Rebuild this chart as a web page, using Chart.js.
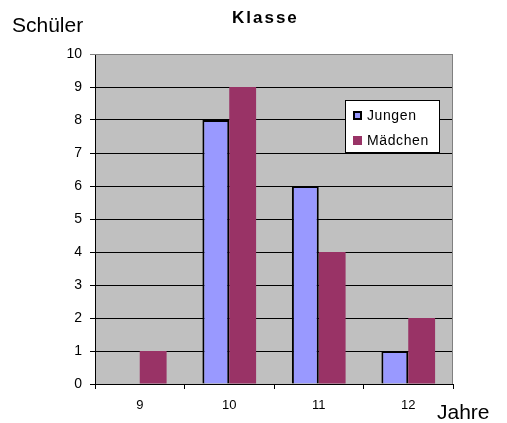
<!DOCTYPE html>
<html>
<head>
<meta charset="utf-8">
<script src="https://cdn.jsdelivr.net/npm/chart.js@4/dist/chart.umd.min.js"></script>
<style>
  html, body { margin: 0; padding: 0; background: #fff; }
  #wrap { width: 507px; height: 423px; }
</style>
</head>
<body>
<div id="wrap"><canvas id="klasseChart"></canvas></div>
<script>
var categories = ['9', '10', '11', '12'];
var jungen = [0, 8, 6, 1];
var maedchen = [1, 9, 4, 2];
var yTicks = [0, 1, 2, 3, 4, 5, 6, 7, 8, 9, 10];

var FONT = 'Arial, "Liberation Sans", sans-serif';

// background, frame, titles and legend box
var extras = {
  id: 'extras',
  beforeDraw: function(chart) {
    var ctx = chart.ctx, a = chart.chartArea;
    ctx.save();
    ctx.fillStyle = '#c0c0c0';
    ctx.fillRect(a.left, a.top, a.right - a.left, a.bottom - a.top);
    ctx.restore();
  },
  afterDatasetsDraw: function(chart) {
    var ctx = chart.ctx, a = chart.chartArea;
    ctx.save();
    ctx.strokeStyle = '#808080';
    ctx.lineWidth = 1;
    ctx.beginPath();
    ctx.moveTo(a.left, a.top + 0.5);
    ctx.lineTo(a.right - 0.5, a.top + 0.5);
    ctx.lineTo(a.right - 0.5, a.bottom);
    ctx.stroke();

    ctx.fillStyle = '#000';
    ctx.textBaseline = 'middle';
    ctx.font = 'bold 17px ' + FONT;
    ctx.textAlign = 'left';
    ctx.letterSpacing = '2px';
    ctx.fillText('Klasse', 232, 18);
    ctx.letterSpacing = '0px';
    ctx.font = '21px ' + FONT;
    ctx.fillText('Schüler', 12, 26);
    ctx.fillText('Jahre', 437, 413);

    // legend
    var lx = 345, ly = 100, lw = 95, lh = 53;
    ctx.fillStyle = '#fff';
    ctx.fillRect(lx, ly, lw, lh);
    ctx.strokeStyle = '#000';
    ctx.strokeRect(lx + 0.5, ly + 0.5, lw - 1, lh - 1);
    ctx.font = '14px ' + FONT;
    ctx.letterSpacing = '0.6px';
    chart.data.datasets.forEach(function(ds, i) {
      var y = ly + 15 + i * 25;
      ctx.fillStyle = ds.backgroundColor;
      ctx.fillRect(lx + 8, y - 4, 9, 9);
      if (ds.borderWidth) {
        ctx.strokeStyle = '#000';
        ctx.lineWidth = 2;
        ctx.strokeRect(lx + 9, y - 3, 7, 7);
      }
      ctx.fillStyle = '#000';
      ctx.fillText(ds.label, lx + 22, y + 1);
    });
    ctx.restore();
  }
};

new Chart(document.getElementById('klasseChart').getContext('2d'), {
  type: 'bar',
  data: {
    labels: categories,
    datasets: [
      { label: 'Jungen', data: jungen, backgroundColor: '#9999ff',
        borderColor: '#000', borderWidth: 2 },
      { label: 'Mädchen', data: maedchen, backgroundColor: '#993366',
        borderWidth: 0 }
    ]
  },
  options: {
    responsive: true,
    maintainAspectRatio: false,
    animation: false,
    layout: { padding: { top: 54, right: 54, left: 0, bottom: 0 } },
    datasets: { bar: { categoryPercentage: 0.6, barPercentage: 1.0 } },
    plugins: { legend: { display: false }, title: { display: false }, tooltip: { enabled: false } },
    scales: {
      x: {
        afterFit: function(s) { s.height = 39; },
        grid: { offset: true, drawOnChartArea: false, drawTicks: true, tickLength: 5, color: '#000' },
        border: { color: '#000', width: 1 },
        ticks: { color: '#000', font: { family: FONT, size: 13 }, padding: 9 }
      },
      y: {
        min: 0, max: 10,
        afterFit: function(s) { s.width = 95; },
        afterBuildTicks: function(s) { s.ticks = yTicks.map(function(v) { return { value: v }; }); },
        grid: {
          color: function(c) { return c.tick && c.tick.value === 10 ? '#808080' : '#000'; },
          lineWidth: 1, tickLength: 5
        },
        border: { color: '#000', width: 1 },
        ticks: { color: '#000', font: { family: FONT, size: 14 }, padding: 8 }
      }
    }
  },
  plugins: [extras]
});
</script>
</body>
</html>
